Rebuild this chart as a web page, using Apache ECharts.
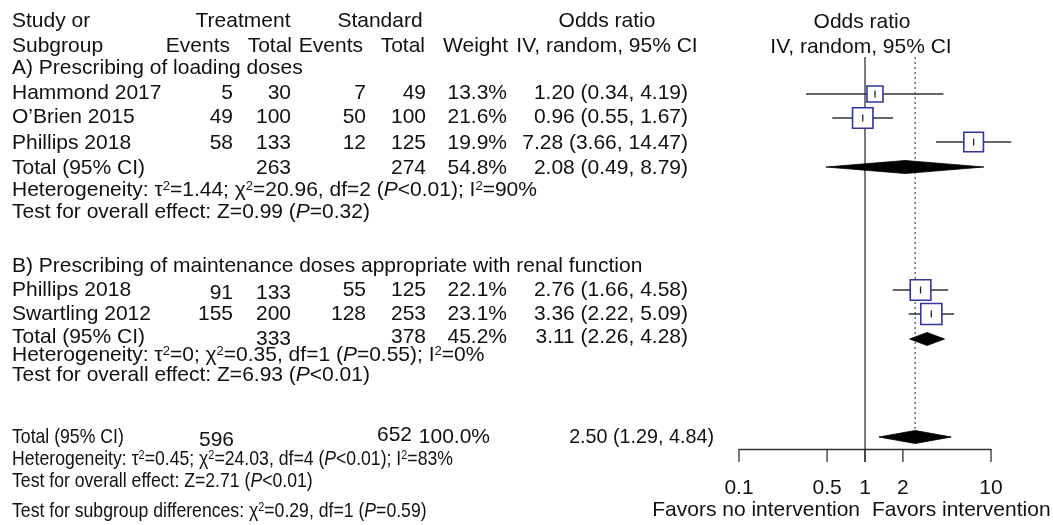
<!DOCTYPE html>
<html><head><meta charset="utf-8">
<script src="https://cdn.jsdelivr.net/npm/echarts@6.0.0/dist/echarts.min.js"></script>
<style>html,body{margin:0;padding:0;background:#fff}#c{width:1053px;height:525px}</style>
</head><body><div id="c"></div>
<script>
// ---------- data ----------
const studyNames   = ['Hammond 2017', 'O\u2019Brien 2015', 'Phillips 2018', 'Phillips 2018', 'Swartling 2012'];
const treatEvents  = [5, 49, 58, 91, 155];
const treatTotals  = [30, 100, 133, 133, 200];
const stdEvents    = [7, 50, 12, 55, 128];
const stdTotals    = [49, 100, 125, 125, 253];
const weights      = [13.3, 21.6, 19.9, 22.1, 23.1];
const oddsRatios   = [1.20, 0.96, 7.28, 2.76, 3.36];
const ciLow        = [0.34, 0.55, 3.66, 1.66, 2.22];
const ciHigh       = [4.19, 1.67, 14.47, 4.58, 5.09];

const totalNames       = ['Total (95% CI)', 'Total (95% CI)', 'Total (95% CI)'];
const totalTreat       = [263, 333, 596];
const totalStd         = [274, 378, 652];
const totalWeights     = [54.8, 45.2, 100.0];
const totalOR          = [2.08, 3.11, 2.50];
const totalLow         = [0.49, 2.26, 1.29];
const totalHigh        = [8.79, 4.28, 4.84];

const subgroupTitles = ['A) Prescribing of loading doses', 'B) Prescribing of maintenance doses appropriate with renal function'];
const heterogeneity = [
  'Heterogeneity: \u03c4{sup|2}=1.44; \u03c7{sup|2}=20.96, df=2 ({it|P}<0.01); I{sup|2}=90%',
  'Heterogeneity: \u03c4{sup|2}=0; \u03c7{sup|2}=0.35, df=1 ({it|P}=0.55); I{sup|2}=0%',
  'Heterogeneity: \u03c4{sup|2}=0.45; \u03c7{sup|2}=24.03, df=4 ({it|P}<0.01); I{sup|2}=83%'
];
const overallEffect = [
  'Test for overall effect: Z=0.99 ({it|P}=0.32)',
  'Test for overall effect: Z=6.93 ({it|P}<0.01)',
  'Test for overall effect: Z=2.71 ({it|P}<0.01)'
];
const subgroupTest = 'Test for subgroup differences: \u03c7{sup|2}=0.29, df=1 ({it|P}=0.59)';
const tickValues = [0.1, 0.5, 1, 2, 10];
const nullValue = 1;
const favorLabels = ['Favors no intervention', 'Favors intervention'];

// ---------- layout (pixels) ----------
const studyTextY = [93, 117, 143, 290, 314];
const studyMarkY = [94, 118, 142, 290, 314];
const totalY = [168, 337, 437];
const diamondY = [167, 339, 437];
const hetY = [190, 355, 459];
const effY = [212, 375, 481];
const headY = [68, 266];
const axisY = 449, tickLen = 13, lineTop = 57;

const FONT = '"Liberation Sans", Arial, sans-serif';
const FS = 21;
const RICH = {
  sup: {fontSize: 13, fontFamily: FONT, verticalAlign: 'top', fill: '#111'},
  it: {fontSize: FS, fontFamily: FONT, fontStyle: 'italic', fill: '#111'}
};
function T(text, x, y, align, sx) {
  return {type: 'text', x: x, y: y, scaleX: sx || 1, silent: true,
    style: {text: text, x: 0, y: 0, fontSize: FS, fontFamily: FONT, fill: '#111',
      align: align || 'left', verticalAlign: 'middle', textAlign: align || 'left', textVerticalAlign: 'middle', rich: RICH}};
}
const g = [];
// headers
g.push(T('Study or', 12, 21, 'left'), T('Treatment', 243, 21, 'center'), T('Standard', 380, 21, 'center'), T('Odds ratio', 607, 21, 'center'));
g.push(T('Subgroup', 12, 46, 'left'), T('Events', 230, 46, 'right'), T('Total', 292, 46, 'right'), T('Events', 363, 46, 'right'),
       T('Total', 425, 46, 'right'), T('Weight', 508, 46, 'right'), T('IV, random, 95% CI', 607, 46, 'center'));
g.push(T('Odds ratio', 862, 22, 'center'), T('IV, random, 95% CI', 861, 47, 'center'));
subgroupTitles.forEach((s, i) => g.push(T(s, 12, headY[i], 'left')));
const fmtCI = (o, l, h) => o.toFixed(2) + ' (' + l.toFixed(2) + ', ' + h.toFixed(2) + ')';
studyNames.forEach((n, i) => {
  const y = studyTextY[i];
  const dy = i === 3 ? 3 : 0;
  g.push(T(n, 12, y), T(String(treatEvents[i]), 233, y + dy, 'right'), T(String(treatTotals[i]), 291, y + dy, 'right'),
    T(String(stdEvents[i]), 366, y, 'right'), T(String(stdTotals[i]), 426, y, 'right'),
    T(weights[i].toFixed(1) + '%', 507, y, 'right'), T(fmtCI(oddsRatios[i], ciLow[i], ciHigh[i]), 688, y, 'right'));
});
for (let i = 0; i < 2; i++) {
  const y = totalY[i];
  g.push(T(totalNames[i], 12, y), T(String(totalTreat[i]), 291, y + (i ? 2 : 0), 'right'), T(String(totalStd[i]), 426, y, 'right'),
    T(totalWeights[i].toFixed(1) + '%', 507, y, 'right'), T(fmtCI(totalOR[i], totalLow[i], totalHigh[i]), 688, y, 'right'));
  g.push(T(heterogeneity[i], 12, hetY[i]), T(overallEffect[i], 12, effY[i]));
}
const SQ = 0.84;
g.push(T(totalNames[2], 12, totalY[2], 'left', SQ), T(String(totalTreat[2]), 234, totalY[2] + 3, 'right'),
  T(String(totalStd[2]), 412, totalY[2] - 2, 'right'), T(totalWeights[2].toFixed(1) + '%', 490, totalY[2], 'right'),
  T(fmtCI(totalOR[2], totalLow[2], totalHigh[2]), 714, totalY[2], 'right', 0.94));
g.push(T(heterogeneity[2], 12, hetY[2], 'left', SQ), T(overallEffect[2], 12, effY[2], 'left', SQ), T(subgroupTest, 12, 511, 'left', SQ));
g.push(T(favorLabels[0], 860, 510, 'right'), T(favorLabels[1], 872, 510, 'left'));

const chart = echarts.init(document.getElementById('c'));
chart.setOption({
  animation: false,
  backgroundColor: '#fff',
  grid: {left: 739, right: 62, top: 0, bottom: 525 - axisY},
  xAxis: {type: 'log', logBase: 10, min: 0.1, max: 10,
    axisLine: {show: true, onZero: false, lineStyle: {color: '#333', width: 1.3}},
    axisTick: {show: false}, axisLabel: {show: false}, splitLine: {show: false}},
  yAxis: {type: 'value', inverse: true, min: 0, max: axisY, show: false, splitLine: {show: false}},
  graphic: g,
  series: [
    { // reference lines: null (solid) and pooled (dotted)
      type: 'custom', clip: false, silent: true,
      data: [[nullValue, lineTop, axisY + tickLen, 0], [totalOR[2], lineTop, diamondY[2], 1]],
      renderItem(p, api) {
        const a = api.coord([api.value(0), api.value(1)]), b = api.coord([api.value(0), api.value(2)]);
        const dotted = api.value(3) === 1;
        return {type: 'line', shape: {x1: a[0], y1: a[1], x2: b[0], y2: b[1]},
          style: {stroke: dotted ? '#555' : '#333', lineWidth: 1.3, lineDash: dotted ? [2, 3] : null}};
      }
    },
    { // axis ticks and labels
      type: 'custom', clip: false, silent: true,
      data: tickValues.map(v => [v, axisY]),
      renderItem(p, api) {
        const c = api.coord([api.value(0), api.value(1)]);
        const v = tickValues[p.dataIndex];
        return {type: 'group', children: [
          {type: 'line', shape: {x1: c[0], y1: c[1], x2: c[0], y2: c[1] + tickLen}, style: {stroke: '#333', lineWidth: 1.3}},
          {type: 'text', x: c[0], y: c[1] + 39, style: {text: String(v), fontSize: FS, fontFamily: FONT, fill: '#111',
            align: 'center', verticalAlign: 'middle', textAlign: 'center', textVerticalAlign: 'middle'}}
        ]};
      }
    },
    { // studies: CI line, weighted square, centre tick
      type: 'custom', clip: false, silent: true,
      data: oddsRatios.map((o, i) => [o, studyMarkY[i], ciLow[i], ciHigh[i], weights[i]]),
      renderItem(p, api) {
        const y = api.value(1);
        const c = api.coord([api.value(0), y]), l = api.coord([api.value(2), y]), r = api.coord([api.value(3), y]);
        const s = 4.39 * Math.sqrt(api.value(4));
        return {type: 'group', children: [
          {type: 'line', shape: {x1: l[0], y1: l[1], x2: r[0], y2: r[1]}, style: {stroke: '#333', lineWidth: 1.3}},
          {type: 'rect', shape: {x: c[0] - s / 2, y: c[1] - s / 2, width: s, height: s}, style: {fill: '#fff', stroke: '#35359a', lineWidth: 1.6}},
          {type: 'line', shape: {x1: c[0], y1: c[1] - 3.5, x2: c[0], y2: c[1] + 3.5}, style: {stroke: '#222', lineWidth: 1.3}}
        ]};
      }
    },
    { // pooled diamonds
      type: 'custom', clip: false, silent: true,
      data: totalOR.map((o, i) => [o, diamondY[i], totalLow[i], totalHigh[i]]),
      renderItem(p, api) {
        const y = api.value(1);
        const c = api.coord([api.value(0), y]), l = api.coord([api.value(2), y]), r = api.coord([api.value(3), y]);
        const h = 6.5;
        return {type: 'polygon', shape: {points: [[l[0], c[1]], [c[0], c[1] - h], [r[0], c[1]], [c[0], c[1] + h]]},
          style: {fill: '#000', stroke: '#000', lineWidth: 0.8}};
      }
    }
  ]
});
</script></body></html>
